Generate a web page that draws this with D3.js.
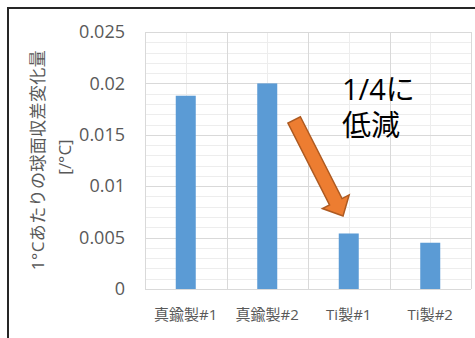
<!DOCTYPE html>
<html>
<head>
<meta charset="utf-8">
<script src="https://cdn.jsdelivr.net/npm/d3@7/dist/d3.min.js"></script>
<style>
  html, body { margin: 0; padding: 0; background: #fff; }
  svg { display: block; }
  text { font-family: "Open Sans", "Noto Sans CJK JP", sans-serif; }
</style>
</head>
<body>
<script>
// Spherical aberration change per 1°C for each sample
const categories = ["真鍮製#1", "真鍮製#2", "Ti製#1", "Ti製#2"];
const values = [0.0188, 0.0200, 0.0054, 0.0045];
const yTicks = [0, 0.005, 0.01, 0.015, 0.02, 0.025];
const yTickLabels = ["0", "0.005", "0.01", "0.015", "0.02", "0.025"];
const yTitle = ["1°Cあたりの球面収差変化量", "[/°C]"];
const noteLines = ["1/4に", "低減"];
// arrow annotation in (category position, value) space
const arrowFrom = [1.83, 0.01645];
const arrowTo = [2.43, 0.0071];

const W = 475, H = 338;
const margin = { left: 145, right: 4, top: 32, bottom: 49 };

const svg = d3.select("body").append("svg")
  .attr("width", W).attr("height", H);

const x = d3.scaleBand().domain(categories)
  .range([margin.left, W - margin.right]).padding(0);
const xc = d3.scaleLinear().domain([0, categories.length])
  .range([margin.left, W - margin.right]);
const y = d3.scaleLinear().domain([0, 0.025])
  .range([H - margin.bottom, margin.top]);

// outer chart frame
svg.append("rect")
  .attr("x", 8).attr("y", 8)
  .attr("width", W + 20).attr("height", H + 20)
  .attr("fill", "none").attr("stroke", "#262626").attr("stroke-width", 2);

const g = svg.append("g");

// minor horizontal grid
const minor = d3.range(0, 26).map(i => i * 0.001).filter(v => Math.round(v * 1000) % 5 !== 0);
g.selectAll(".hminor").data(minor).join("line")
  .attr("x1", margin.left).attr("x2", W - margin.right)
  .attr("y1", d => Math.round(y(d)) + 0.5).attr("y2", d => Math.round(y(d)) + 0.5)
  .attr("stroke", "#EDEDED").attr("stroke-width", 1);

// minor vertical grid at category centres
g.selectAll(".vminor").data(categories).join("line")
  .attr("x1", d => Math.round(x(d) + x.bandwidth() / 2) + 0.5)
  .attr("x2", d => Math.round(x(d) + x.bandwidth() / 2) + 0.5)
  .attr("y1", y(0.025)).attr("y2", y(0))
  .attr("stroke", "#EDEDED").attr("stroke-width", 1);

// major horizontal grid
g.selectAll(".hmajor").data(yTicks).join("line")
  .attr("x1", margin.left).attr("x2", W - margin.right)
  .attr("y1", d => Math.round(y(d)) + 0.5).attr("y2", d => Math.round(y(d)) + 0.5)
  .attr("stroke", "#D9D9D9").attr("stroke-width", 1);

// major vertical grid at category boundaries
g.selectAll(".vmajor").data(d3.range(categories.length + 1)).join("line")
  .attr("x1", d => Math.round(xc(d)) + 0.5).attr("x2", d => Math.round(xc(d)) + 0.5)
  .attr("y1", y(0.025)).attr("y2", y(0))
  .attr("stroke", "#D9D9D9").attr("stroke-width", 1);

// bars
const barW = 20;
g.selectAll(".bar").data(values).join("rect")
  .attr("x", (d, i) => x(categories[i]) + x.bandwidth() / 2 - barW / 2)
  .attr("y", d => y(d))
  .attr("width", barW)
  .attr("height", d => y(0) - y(d))
  .attr("fill", "#5B9BD5");

// y axis labels
const yAxis = d3.axisLeft(y).tickValues(yTicks).tickSize(0).tickPadding(0)
  .tickFormat((d, i) => yTickLabels[i]);
const ya = svg.append("g").attr("transform", `translate(${margin.left - 20},0)`).call(yAxis);
ya.select(".domain").remove();
ya.selectAll("text")
  .attr("font-size", 18).attr("fill", "#595959")
  .style("font-family", "'Open Sans', sans-serif");

// x axis labels
const xAxis = d3.axisBottom(x).tickSize(0).tickPadding(0);
const xa = svg.append("g").attr("transform", `translate(0,${y(0) + 20})`).call(xAxis);
xa.select(".domain").remove();
xa.selectAll("text")
  .attr("font-size", 15).attr("fill", "#595959").attr("dy", "0.71em");

// y axis title
const tg = svg.append("g").attr("transform", "translate(38,160) rotate(-90)");
tg.append("text").attr("text-anchor", "middle").attr("dy", "0.35em")
  .attr("font-size", 17).attr("fill", "#595959").attr("letter-spacing", 0.4)
  .text(yTitle[0]);
svg.append("g").attr("transform", "translate(65,157) rotate(-90)")
  .append("text").attr("text-anchor", "middle").attr("dy", "0.35em")
  .attr("font-size", 17).attr("fill", "#595959")
  .text(yTitle[1]);

// annotation text
svg.selectAll(".note").data(noteLines).join("text")
  .attr("x", xc(2.43) - 1)
  .attr("y", (d, i) => y(0.01838) + i * 36)
  .attr("font-size", 29).attr("fill", "#000")
  .text(d => d);

// arrow
const p0 = [xc(arrowFrom[0]), y(arrowFrom[1])];
const p1 = [xc(arrowTo[0]), y(arrowTo[1])];
const dx = p1[0] - p0[0], dy = p1[1] - p0[1];
const len = Math.hypot(dx, dy);
const ux = dx / len, uy = dy / len, px = -uy, py = ux;
const sw = 7, hw = 15, hl = 16;
const pt = (a, b) => [p0[0] + ux * a + px * b, p0[1] + uy * a + py * b];
const arrowPts = [
  pt(0, -sw), pt(len - hl, -sw), pt(len - hl, -hw), pt(len, 0),
  pt(len - hl, hw), pt(len - hl, sw), pt(0, sw)
];
svg.append("polygon")
  .attr("points", arrowPts.map(p => p.join(",")).join(" "))
  .attr("fill", "#ED7D31").attr("stroke", "#AE5A21")
  .attr("stroke-width", 1.5).attr("stroke-linejoin", "miter");
</script>
</body>
</html>
